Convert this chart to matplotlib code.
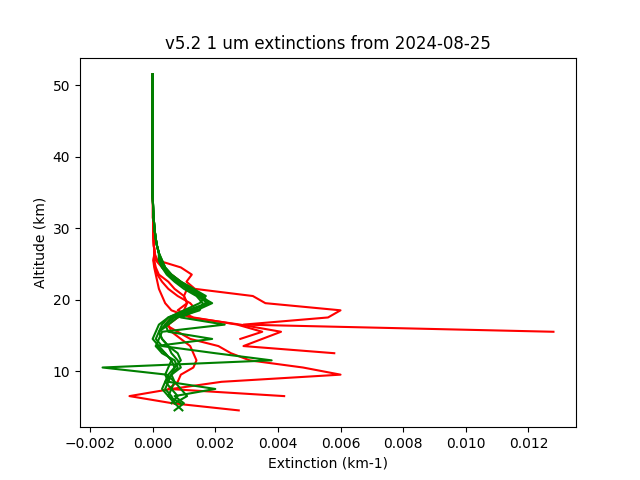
import numpy as np
import matplotlib
matplotlib.use('Agg')
import matplotlib.pyplot as plt

# altitude grid (km), top to bottom
alt = [51.5, 50.5, 49.5, 48.5, 47.5, 46.5, 45.5, 44.5, 43.5, 42.5, 41.5, 40.5,
       39.5, 38.5, 37.5, 36.5, 35.5, 34.5, 33.5, 32.5, 31.5, 30.5, 29.5, 28.5,
       27.5, 26.5, 25.5, 24.5, 23.5, 22.5, 21.5, 20.5, 19.5, 18.5, 17.5, 16.5,
       15.5, 14.5, 13.5, 12.5, 11.5, 10.5, 9.5, 8.5, 7.5, 6.5, 5.5, 4.5]

# upper stratosphere (51.5 - 26.5 km), nearly zero
red_top = [0, 0, 0, 0, 0, 0, 0, 0, 0, 0, 0, 0, 0, 0, 0, 0, 0, 0,
           0.00001, 0.00001, 0.00001, 0.00002, 0.00002, 0.00003, 0.00004, 0.00006]
green_top = [0, 0, 0, 0, 0, 0, 0, 0, 0, 0, 0, 0, 0, 0, 0, 0, 0, 0,
             0.00001, 0.00002, 0.00003, 0.00005, 0.00007, 0.0001, 0.00014, 0.0002]

# red profiles, 25.5 km downwards (profiles stop at cloud top)
red1 = [0.00015, 0.0009, 0.00125, 0.00108, 0.00135, 0.0032, 0.0036, 0.0060, 0.0056,
        0.0029, 0.0128]
red2 = [0.00002, 0.00005, 0.0001, 0.00015, 0.0002, 0.0003, 0.0004, 0.0006, 0.0012,
        0.0028, 0.0041, 0.0035, 0.0029, 0.0058]
red3 = [0.0001, 0.0003, 0.0006, 0.0009, 0.0011, 0.0010, 0.0011, 0.0008, 0.0013,
        0.0027, 0.0035, 0.0028]
red4 = [0.00005, 0.0001, 0.0002, 0.0005, 0.0007, 0.0010, 0.0011, 0.0010, 0.0006,
        0.0004, 0.0008, 0.0012, 0.0021, 0.0025, 0.0031, 0.0048, 0.0060, 0.0022,
        0.0006, -0.00074, 0.00063, 0.00275]
red5 = [0.00003, 0.00008, 0.00015, 0.0003, 0.0005, 0.0008, 0.0012, 0.0014, 0.0008,
        0.0005, 0.0006, 0.0009, 0.0012, 0.0013, 0.0014, 0.0013, 0.0009, 0.0008,
        0.0005, 0.0042]

# green profiles, 25.5 km downwards
green1 = [0.00025, 0.00035, 0.0005, 0.0008, 0.0012, 0.0015, 0.0019, 0.0014, 0.0009,
          0.0023, 0.0003, 0.0002, 0.0001, 0.0004, 0.0006, 0.0005, 0.0004, 0.0005,
          0.0004, 0.0006, 0.0007, 0.00095]
green2 = [0.0003, 0.0004, 0.0006, 0.0009, 0.0013, 0.0016, 0.0017, 0.0013, 0.0006,
          0.0004, 0.0005, 0.0019, 0.0001, 0.0003, 0.0007, 0.0008, 0.0006, 0.0004,
          0.0003, 0.0005, 0.0007]
green3 = [0.0002, 0.0003, 0.00045, 0.0007, 0.0010, 0.0014, 0.0016, 0.0015, 0.0008,
          0.0005, 0.0002, 0.0001, 0.0003, 0.0020, 0.0038, -0.0016, 0.00045, 0.0007,
          0.0006, 0.0005, 0.0009]
green4 = [0.00025, 0.00035, 0.00055, 0.00085, 0.0012, 0.0016, 0.0018, 0.0012, 0.0007,
          0.0004, 0.0002, 0.0003, 0.0005, 0.0006, 0.0008, 0.0009, 0.0006, 0.0005,
          0.0020, 0.0007, 0.0010, 0.0007]
green5 = [0.0002, 0.0003, 0.0005, 0.00075, 0.0011, 0.00145, 0.00175, 0.0011, 0.0005,
          0.0002, 0.0001, 0.0, 0.0002, 0.0004, 0.0006, 0.0007, 0.0005, 0.0004,
          0.0006, 0.0008, 0.0006]
green6 = [0.0003, 0.0004, 0.0006, 0.0009, 0.0013, 0.0017, 0.0015, 0.0010, 0.0005,
          0.0003, 0.0002, 0.0003, 0.0005, 0.0008, 0.0009, 0.0007, 0.0006, 0.0007,
          0.0009, 0.0011, 0.0007]

reds = [red1, red2, red3, red4, red5]
greens = [green1, green2, green3, green4, green5, green6]

fig, ax = plt.subplots(figsize=(6.4, 4.8), dpi=100)

for r in reds:
    ext = red_top + r
    ax.plot(ext, alt[:len(ext)], color='red')
for g in greens:
    ext = green_top + g
    ax.plot(ext, alt[:len(ext)], color='green')

ax.set_title('v5.2 1 um extinctions from 2024-08-25')
ax.set_xlabel('Extinction (km-1)')
ax.set_ylabel('Altitude (km)')

fig.savefig('out.png')
